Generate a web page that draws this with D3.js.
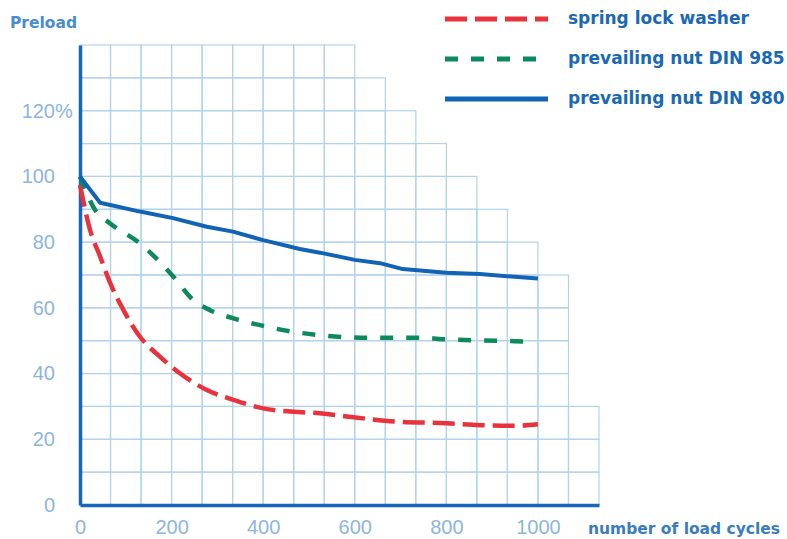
<!DOCTYPE html>
<html>
<head>
<meta charset="utf-8">
<script src="https://cdn.jsdelivr.net/npm/d3@7"></script>
<style>
  html, body { margin: 0; padding: 0; background: #fff; }
  svg { display: block; }
</style>
</head>
<body>
<svg id="chart" width="787" height="539"></svg>
<script>
// Preload retained (%) versus number of load cycles
const cycles985 = [0, 33, 66, 131, 204, 247, 284, 335, 400, 466, 524, 626, 742, 800, 913, 990];
const preload985 = [100, 89.8, 85.7, 79.6, 69.5, 62.4, 59.3, 56.8, 54.5, 52.7, 51.7, 50.9, 50.9, 50.4, 50.0, 49.7];

const cycles980 = [0, 44, 131, 203, 277, 334, 400, 480, 524, 600, 655, 705, 800, 873, 1000];
const preload980 = [100, 92.0, 89.3, 87.3, 84.7, 83.2, 80.6, 77.9, 76.8, 74.6, 73.6, 71.8, 70.7, 70.3, 68.9];

const cyclesWasher = [0, 22, 44, 66, 95, 131, 175, 218, 277, 335, 400, 466, 524, 597, 699, 800, 873, 946, 1000];
const preloadWasher = [97.4, 83.7, 75.6, 67.5, 59.3, 51.2, 45.1, 40.1, 35.0, 32.0, 29.4, 28.4, 27.9, 26.7, 25.3, 24.9, 24.3, 24.1, 24.6];

const seriesNames = ["spring lock washer", "prevailing nut DIN 985", "prevailing nut DIN 980"];
const yTicks = [0, 20, 40, 60, 80, 100, 120];
const xTicks = [0, 200, 400, 600, 800, 1000];

// staircase grid: number of 1000/15-cycle columns in each 10 % row, bottom row first
const gridCols = [17, 17, 17, 16, 16, 16, 16, 15, 14, 13, 12, 11, 10, 9];
const colStep = 1000 / 15;

const svg = d3.select("#chart");
const x = d3.scaleLinear().domain([0, colStep * 17]).range([80, 599]);
const y = d3.scaleLinear().domain([0, 140]).range([505, 45]);

// grid cells
const cells = [];
gridCols.forEach((n, r) => {
  for (let c = 0; c < n; c++) cells.push({ r, c });
});
svg.append("g")
  .selectAll("rect")
  .data(cells)
  .join("rect")
  .attr("x", d => x(d.c * colStep))
  .attr("y", d => y((d.r + 1) * 10))
  .attr("width", x(colStep) - x(0))
  .attr("height", y(0) - y(10))
  .attr("fill", "none")
  .attr("stroke", "#b4d2ee")
  .attr("stroke-width", 1.2);

// axes
const yAxis = svg.append("g")
  .attr("transform", "translate(80,0)")
  .call(d3.axisLeft(y).tickValues(yTicks).tickSize(0).tickPadding(25).tickFormat(d => d));
yAxis.select(".domain").attr("stroke", "#1766b9").attr("stroke-width", 3.5);
yAxis.selectAll("text")
  .attr("font-family", "Liberation Sans, Arial, sans-serif")
  .attr("font-size", 20)
  .attr("fill", "#8db5de");
yAxis.selectAll(".tick").filter(d => d === 120)
  .append("text")
  .attr("x", -25)
  .attr("dy", "0.32em")
  .attr("text-anchor", "start")
  .attr("font-family", "Liberation Sans, Arial, sans-serif")
  .attr("font-size", 20)
  .attr("fill", "#8db5de")
  .text("%");

const xAxis = svg.append("g")
  .attr("transform", "translate(0,505)")
  .call(d3.axisBottom(x).tickValues(xTicks).tickSize(0).tickPadding(15).tickFormat(d => d));
xAxis.select(".domain").attr("stroke", "#1766b9").attr("stroke-width", 3.5);
xAxis.selectAll("text")
  .attr("font-family", "Liberation Sans, Arial, sans-serif")
  .attr("font-size", 20)
  .attr("fill", "#8db5de");

// curves
const series = [
  { xs: cyclesWasher, ys: preloadWasher, color: "#e8323c", dash: "22,8", width: 4.5, curve: d3.curveMonotoneX },
  { xs: cycles985, ys: preload985, color: "#0d8a5c", dash: "13,13", width: 4.5, curve: d3.curveMonotoneX },
  { xs: cycles980, ys: preload980, color: "#1163b6", dash: null, width: 4, curve: d3.curveLinear }
];

series.forEach(s => {
  const line = d3.line()
    .x(d => x(d[0]))
    .y(d => y(d[1]))
    .curve(s.curve);
  svg.append("path")
    .datum(s.xs.map((v, i) => [v, s.ys[i]]))
    .attr("d", line)
    .attr("fill", "none")
    .attr("stroke", s.color)
    .attr("stroke-width", s.width)
    .attr("stroke-dasharray", s.dash)
    .attr("stroke-linejoin", "round");
});

// legend
const legend = svg.append("g");
series.forEach((s, i) => {
  const ly = 19 + i * 40;
  legend.append("line")
    .attr("x1", 445).attr("x2", 548)
    .attr("y1", ly).attr("y2", ly)
    .attr("stroke", s.color)
    .attr("stroke-width", 5)
    .attr("stroke-dasharray", s.dash);
  legend.append("text")
    .attr("x", 568).attr("y", ly + 5)
    .attr("font-family", "DejaVu Sans, Verdana, sans-serif")
    .attr("font-weight", "bold")
    .attr("font-size", 17)
    .attr("fill", "#1a68b5")
    .text(seriesNames[i]);
});

// axis titles
svg.append("text")
  .attr("x", 10).attr("y", 28)
  .attr("font-family", "DejaVu Sans, Verdana, sans-serif")
  .attr("font-weight", "bold")
  .attr("font-size", 15.5)
  .attr("fill", "#4a8dcf")
  .text("Preload");

svg.append("text")
  .attr("x", 588).attr("y", 534)
  .attr("font-family", "DejaVu Sans, Verdana, sans-serif")
  .attr("font-weight", "bold")
  .attr("font-size", 15.5)
  .attr("fill", "#3a7cc2")
  .text("number of load cycles");
</script>
</body>
</html>
